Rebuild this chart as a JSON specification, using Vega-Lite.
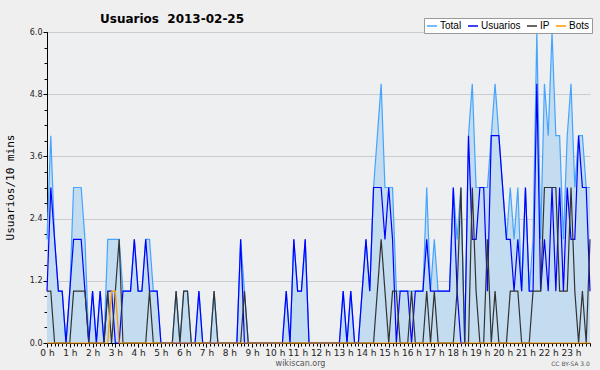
{
"$schema": "https://vega.github.io/schema/vega-lite/v6.json",
"width": 543, "height": 311,
"autosize": "none",
"padding": {"left": 47, "top": 32, "right": 10, "bottom": 27},
"background": "#efefef",
"config": {"view": {"fill": "#eeeff0", "stroke": null}, "font": "DejaVu Sans"},
"title": {"text": "Usuarios\u00a0\u00a02013-02-25", "anchor": "start", "frame": "group", "dx": 53, "dy": 17, "offset": 0, "baseline": "alphabetic", "font": "DejaVu Sans", "fontSize": 12, "fontWeight": "bold", "color": "#000000"},
"data": {"values": [
{"t":0,"Total":2,"Usuarios":1,"IP":1,"Bots":0},
{"t":1,"Total":4,"Usuarios":3,"IP":1,"Bots":0},
{"t":2,"Total":2,"Usuarios":2,"IP":0,"Bots":0},
{"t":3,"Total":1,"Usuarios":1,"IP":0,"Bots":0},
{"t":4,"Total":1,"Usuarios":1,"IP":0,"Bots":0},
{"t":5,"Total":0,"Usuarios":0,"IP":0,"Bots":0},
{"t":6,"Total":1,"Usuarios":1,"IP":0,"Bots":0},
{"t":7,"Total":3,"Usuarios":2,"IP":1,"Bots":0},
{"t":8,"Total":3,"Usuarios":2,"IP":1,"Bots":0},
{"t":9,"Total":3,"Usuarios":2,"IP":1,"Bots":0},
{"t":10,"Total":2,"Usuarios":1,"IP":1,"Bots":0},
{"t":11,"Total":0,"Usuarios":0,"IP":0,"Bots":0},
{"t":12,"Total":1,"Usuarios":1,"IP":0,"Bots":0},
{"t":13,"Total":0,"Usuarios":0,"IP":0,"Bots":0},
{"t":14,"Total":1,"Usuarios":1,"IP":0,"Bots":0},
{"t":15,"Total":0,"Usuarios":0,"IP":0,"Bots":0},
{"t":16,"Total":2,"Usuarios":1,"IP":1,"Bots":0},
{"t":17,"Total":2,"Usuarios":1,"IP":0,"Bots":1},
{"t":18,"Total":2,"Usuarios":0,"IP":1,"Bots":1},
{"t":19,"Total":2,"Usuarios":0,"IP":2,"Bots":0},
{"t":20,"Total":1,"Usuarios":1,"IP":0,"Bots":0},
{"t":21,"Total":1,"Usuarios":1,"IP":0,"Bots":0},
{"t":22,"Total":1,"Usuarios":1,"IP":0,"Bots":0},
{"t":23,"Total":2,"Usuarios":2,"IP":0,"Bots":0},
{"t":24,"Total":1,"Usuarios":1,"IP":0,"Bots":0},
{"t":25,"Total":1,"Usuarios":1,"IP":0,"Bots":0},
{"t":26,"Total":2,"Usuarios":2,"IP":0,"Bots":0},
{"t":27,"Total":2,"Usuarios":1,"IP":1,"Bots":0},
{"t":28,"Total":1,"Usuarios":1,"IP":0,"Bots":0},
{"t":29,"Total":1,"Usuarios":1,"IP":0,"Bots":0},
{"t":30,"Total":0,"Usuarios":0,"IP":0,"Bots":0},
{"t":31,"Total":0,"Usuarios":0,"IP":0,"Bots":0},
{"t":32,"Total":0,"Usuarios":0,"IP":0,"Bots":0},
{"t":33,"Total":0,"Usuarios":0,"IP":0,"Bots":0},
{"t":34,"Total":1,"Usuarios":0,"IP":1,"Bots":0},
{"t":35,"Total":0,"Usuarios":0,"IP":0,"Bots":0},
{"t":36,"Total":1,"Usuarios":0,"IP":1,"Bots":0},
{"t":37,"Total":1,"Usuarios":0,"IP":1,"Bots":0},
{"t":38,"Total":0,"Usuarios":0,"IP":0,"Bots":0},
{"t":39,"Total":0,"Usuarios":0,"IP":0,"Bots":0},
{"t":40,"Total":1,"Usuarios":1,"IP":0,"Bots":0},
{"t":41,"Total":0,"Usuarios":0,"IP":0,"Bots":0},
{"t":42,"Total":0,"Usuarios":0,"IP":0,"Bots":0},
{"t":43,"Total":0,"Usuarios":0,"IP":0,"Bots":0},
{"t":44,"Total":1,"Usuarios":0,"IP":1,"Bots":0},
{"t":45,"Total":0,"Usuarios":0,"IP":0,"Bots":0},
{"t":46,"Total":0,"Usuarios":0,"IP":0,"Bots":0},
{"t":47,"Total":0,"Usuarios":0,"IP":0,"Bots":0},
{"t":48,"Total":0,"Usuarios":0,"IP":0,"Bots":0},
{"t":49,"Total":0,"Usuarios":0,"IP":0,"Bots":0},
{"t":50,"Total":0,"Usuarios":0,"IP":0,"Bots":0},
{"t":51,"Total":2,"Usuarios":2,"IP":0,"Bots":0},
{"t":52,"Total":1,"Usuarios":0,"IP":1,"Bots":0},
{"t":53,"Total":0,"Usuarios":0,"IP":0,"Bots":0},
{"t":54,"Total":0,"Usuarios":0,"IP":0,"Bots":0},
{"t":55,"Total":0,"Usuarios":0,"IP":0,"Bots":0},
{"t":56,"Total":0,"Usuarios":0,"IP":0,"Bots":0},
{"t":57,"Total":0,"Usuarios":0,"IP":0,"Bots":0},
{"t":58,"Total":0,"Usuarios":0,"IP":0,"Bots":0},
{"t":59,"Total":0,"Usuarios":0,"IP":0,"Bots":0},
{"t":60,"Total":0,"Usuarios":0,"IP":0,"Bots":0},
{"t":61,"Total":0,"Usuarios":0,"IP":0,"Bots":0},
{"t":62,"Total":0,"Usuarios":0,"IP":0,"Bots":0},
{"t":63,"Total":1,"Usuarios":1,"IP":0,"Bots":0},
{"t":64,"Total":0,"Usuarios":0,"IP":0,"Bots":0},
{"t":65,"Total":2,"Usuarios":2,"IP":0,"Bots":0},
{"t":66,"Total":1,"Usuarios":1,"IP":0,"Bots":0},
{"t":67,"Total":1,"Usuarios":1,"IP":0,"Bots":0},
{"t":68,"Total":2,"Usuarios":2,"IP":0,"Bots":0},
{"t":69,"Total":0,"Usuarios":0,"IP":0,"Bots":0},
{"t":70,"Total":0,"Usuarios":0,"IP":0,"Bots":0},
{"t":71,"Total":0,"Usuarios":0,"IP":0,"Bots":0},
{"t":72,"Total":0,"Usuarios":0,"IP":0,"Bots":0},
{"t":73,"Total":0,"Usuarios":0,"IP":0,"Bots":0},
{"t":74,"Total":0,"Usuarios":0,"IP":0,"Bots":0},
{"t":75,"Total":0,"Usuarios":0,"IP":0,"Bots":0},
{"t":76,"Total":0,"Usuarios":0,"IP":0,"Bots":0},
{"t":77,"Total":0,"Usuarios":0,"IP":0,"Bots":0},
{"t":78,"Total":1,"Usuarios":1,"IP":0,"Bots":0},
{"t":79,"Total":0,"Usuarios":0,"IP":0,"Bots":0},
{"t":80,"Total":1,"Usuarios":1,"IP":0,"Bots":0},
{"t":81,"Total":0,"Usuarios":0,"IP":0,"Bots":0},
{"t":82,"Total":0,"Usuarios":0,"IP":0,"Bots":0},
{"t":83,"Total":1,"Usuarios":1,"IP":0,"Bots":0},
{"t":84,"Total":2,"Usuarios":2,"IP":0,"Bots":0},
{"t":85,"Total":1,"Usuarios":1,"IP":0,"Bots":0},
{"t":86,"Total":3,"Usuarios":3,"IP":0,"Bots":0},
{"t":87,"Total":4,"Usuarios":3,"IP":1,"Bots":0},
{"t":88,"Total":5,"Usuarios":3,"IP":2,"Bots":0},
{"t":89,"Total":3,"Usuarios":2,"IP":1,"Bots":0},
{"t":90,"Total":3,"Usuarios":3,"IP":0,"Bots":0},
{"t":91,"Total":3,"Usuarios":2,"IP":1,"Bots":0},
{"t":92,"Total":1,"Usuarios":0,"IP":1,"Bots":0},
{"t":93,"Total":1,"Usuarios":1,"IP":0,"Bots":0},
{"t":94,"Total":1,"Usuarios":1,"IP":0,"Bots":0},
{"t":95,"Total":1,"Usuarios":1,"IP":0,"Bots":0},
{"t":96,"Total":1,"Usuarios":0,"IP":1,"Bots":0},
{"t":97,"Total":1,"Usuarios":1,"IP":0,"Bots":0},
{"t":98,"Total":1,"Usuarios":1,"IP":0,"Bots":0},
{"t":99,"Total":1,"Usuarios":1,"IP":0,"Bots":0},
{"t":100,"Total":3,"Usuarios":2,"IP":1,"Bots":0},
{"t":101,"Total":1,"Usuarios":1,"IP":0,"Bots":0},
{"t":102,"Total":2,"Usuarios":1,"IP":1,"Bots":0},
{"t":103,"Total":1,"Usuarios":1,"IP":0,"Bots":0},
{"t":104,"Total":1,"Usuarios":1,"IP":0,"Bots":0},
{"t":105,"Total":1,"Usuarios":1,"IP":0,"Bots":0},
{"t":106,"Total":1,"Usuarios":1,"IP":0,"Bots":0},
{"t":107,"Total":3,"Usuarios":3,"IP":0,"Bots":0},
{"t":108,"Total":2,"Usuarios":1,"IP":1,"Bots":0},
{"t":109,"Total":3,"Usuarios":0,"IP":3,"Bots":0},
{"t":110,"Total":0,"Usuarios":0,"IP":0,"Bots":0},
{"t":111,"Total":4,"Usuarios":4,"IP":0,"Bots":0},
{"t":112,"Total":5,"Usuarios":2,"IP":3,"Bots":0},
{"t":113,"Total":3,"Usuarios":2,"IP":1,"Bots":0},
{"t":114,"Total":3,"Usuarios":3,"IP":0,"Bots":0},
{"t":115,"Total":3,"Usuarios":3,"IP":0,"Bots":0},
{"t":116,"Total":3,"Usuarios":1,"IP":2,"Bots":0},
{"t":117,"Total":4,"Usuarios":4,"IP":0,"Bots":0},
{"t":118,"Total":5,"Usuarios":4,"IP":1,"Bots":0},
{"t":119,"Total":4,"Usuarios":4,"IP":0,"Bots":0},
{"t":120,"Total":3,"Usuarios":3,"IP":0,"Bots":0},
{"t":121,"Total":2,"Usuarios":2,"IP":0,"Bots":0},
{"t":122,"Total":3,"Usuarios":2,"IP":1,"Bots":0},
{"t":123,"Total":2,"Usuarios":1,"IP":1,"Bots":0},
{"t":124,"Total":3,"Usuarios":2,"IP":1,"Bots":0},
{"t":125,"Total":1,"Usuarios":1,"IP":0,"Bots":0},
{"t":126,"Total":3,"Usuarios":3,"IP":0,"Bots":0},
{"t":127,"Total":1,"Usuarios":1,"IP":0,"Bots":0},
{"t":128,"Total":2,"Usuarios":1,"IP":1,"Bots":0},
{"t":129,"Total":6,"Usuarios":5,"IP":1,"Bots":0},
{"t":130,"Total":2,"Usuarios":1,"IP":1,"Bots":0},
{"t":131,"Total":5,"Usuarios":2,"IP":3,"Bots":0},
{"t":132,"Total":4,"Usuarios":1,"IP":3,"Bots":0},
{"t":133,"Total":6,"Usuarios":3,"IP":3,"Bots":0},
{"t":134,"Total":4,"Usuarios":1,"IP":3,"Bots":0},
{"t":135,"Total":4,"Usuarios":3,"IP":1,"Bots":0},
{"t":136,"Total":2,"Usuarios":1,"IP":1,"Bots":0},
{"t":137,"Total":4,"Usuarios":3,"IP":1,"Bots":0},
{"t":138,"Total":5,"Usuarios":2,"IP":3,"Bots":0},
{"t":139,"Total":3,"Usuarios":2,"IP":1,"Bots":0},
{"t":140,"Total":4,"Usuarios":4,"IP":0,"Bots":0},
{"t":141,"Total":4,"Usuarios":3,"IP":1,"Bots":0},
{"t":142,"Total":3,"Usuarios":3,"IP":0,"Bots":0},
{"t":143,"Total":3,"Usuarios":1,"IP":2,"Bots":0}
]},
"transform": [{"fold": ["Total", "Usuarios", "IP", "Bots"], "as": ["serie", "v"]}],
"layer": [
{
"transform": [{"filter": "datum.serie === 'Total'"}],
"mark": {"type": "area", "color": "#c4dcf0", "opacity": 1},
"encoding": {
"x": {"field": "t", "type": "quantitative", "scale": {"domain": [0, 143], "nice": false, "zero": false},
"axis": {"orient": "bottom", "values": [0,6,12,18,24,30,36,42,48,54,60,66,72,78,84,90,96,102,108,114,120,126,132,138], "labelExpr": "floor(datum.value/6) + ' h'", "grid": false, "tickSize": 4, "tickColor": "#000000", "domainColor": "#000000", "labelFontSize": 9, "labelColor": "#222222", "labelPadding": 1, "labelFlush": false, "labelOverlap": false, "title": "wikiscan.org", "titleFontSize": 8, "titleFontWeight": "normal", "titleColor": "#555555", "titleX": 253, "titleY": 22, "titleAnchor": "middle", "titleBaseline": "alphabetic"}},
"y": {"field": "v", "type": "quantitative", "scale": {"domain": [0, 6], "nice": false},
"axis": {"orient": "left", "values": [0, 1.2, 2.4, 3.6, 4.8, 6], "format": ".1f", "grid": true, "gridColor": "#cccccc", "tickSize": 4, "tickColor": "#000000", "domainColor": "#000000", "labelFontSize": 8, "labelColor": "#222222", "labelPadding": 1, "labelFlush": false, "title": "Usuarios/10 mins", "titleFont": "DejaVu Sans Mono", "titleFontSize": 11, "titleFontWeight": "normal", "titleColor": "#000000", "titleX": -37, "titleY": 155, "titleAlign": "center", "titleBaseline": "middle", "titleAngle": 270}}
}
},
{
"mark": {"type": "line", "strokeWidth": 1.2},
"encoding": {
"x": {"field": "t", "type": "quantitative", "scale": {"domain": [0, 143], "nice": false, "zero": false},
"axis": {"orient": "bottom", "tickCount": 143, "labels": false, "domain": false, "grid": false, "tickSize": 3, "tickColor": "#000000", "title": "CC BY-SA 3.0", "titleFontSize": 6, "titleFontWeight": "normal", "titleColor": "#555555", "titleX": 523, "titleY": 22, "titleAnchor": "middle", "titleBaseline": "alphabetic"}},
"y": {"field": "v", "type": "quantitative", "scale": {"domain": [0, 6], "nice": false},
"axis": {"orient": "left", "values": [0,0.3,0.6,0.9,1.2,1.5,1.8,2.1,2.4,2.7,3,3.3,3.6,3.9,4.2,4.5,4.8,5.1,5.4,5.7,6], "labels": false, "domain": false, "grid": false, "tickSize": 3, "tickColor": "#000000", "title": null}},
"color": {"field": "serie", "type": "nominal", "sort": ["Total", "Usuarios", "IP", "Bots"],
"scale": {"domain": ["Total", "Usuarios", "IP", "Bots"], "range": ["#44a4ff", "#0000ff", "#333333", "#ff9900"]},
"legend": {"orient": "none", "legendX": 377, "legendY": -14, "direction": "horizontal", "title": null, "fillColor": "#ffffff", "strokeColor": "#999999", "padding": 2, "symbolType": "stroke", "symbolStrokeWidth": 1.5, "symbolSize": 100, "labelFontSize": 10, "labelFont": "Liberation Sans", "labelColor": "#000000", "columnPadding": 3, "labelOffset": 2}}
}
}
],
"resolve": {"scale": {"x": "independent", "y": "independent"}, "axis": {"x": "independent", "y": "independent"}}
}
